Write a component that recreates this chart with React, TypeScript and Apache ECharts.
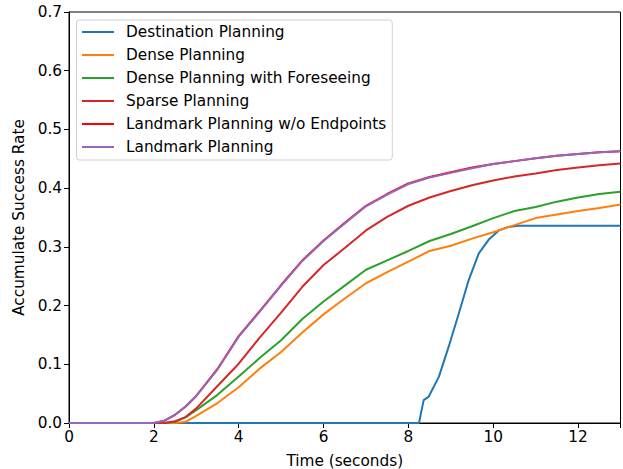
import React, { useEffect, useRef } from "react";
import * as echarts from "echarts";

const seriesNames = [
  "Destination Planning",
  "Dense Planning",
  "Dense Planning with Foreseeing",
  "Sparse Planning",
  "Landmark Planning w/o Endpoints",
  "Landmark Planning",
];
const seriesColors = ["#1f77b4", "#ff7f0e", "#2ca02c", "#d62728", "#ff0000", "#9467bd"];

const timeGrid = [0, 2.0, 2.25, 2.5, 2.75, 3.0, 3.5, 4.0, 4.5, 5.0, 5.5, 6.0, 6.5, 7.0, 7.5, 8.0, 8.5, 9.0, 9.5, 10.0, 10.5, 11.0, 11.5, 12.0, 12.5, 13.0];

const destinationTimes = [0, 8.25, 8.36, 8.48, 8.72, 8.95, 9.19, 9.42, 9.66, 9.89, 10.13, 10.36, 10.6, 11.0, 12.0, 13.0];
const destinationValues = [0, 0, 0.039, 0.045, 0.079, 0.13, 0.187, 0.243, 0.289, 0.312, 0.328, 0.334, 0.336, 0.336, 0.336, 0.336];

const denseValues = [0, 0, 0, 0, 0.002, 0.012, 0.034, 0.061, 0.093, 0.121, 0.154, 0.185, 0.212, 0.238, 0.257, 0.275, 0.293, 0.302, 0.314, 0.325, 0.337, 0.349, 0.355, 0.361, 0.366, 0.372];
const foreseeValues = [0, 0, 0, 0.002, 0.01, 0.022, 0.048, 0.079, 0.111, 0.141, 0.177, 0.207, 0.234, 0.261, 0.277, 0.293, 0.31, 0.322, 0.335, 0.349, 0.361, 0.368, 0.377, 0.384, 0.39, 0.394];
const sparseValues = [0, 0, 0, 0.003, 0.01, 0.025, 0.063, 0.101, 0.146, 0.188, 0.232, 0.269, 0.298, 0.328, 0.351, 0.37, 0.384, 0.395, 0.405, 0.413, 0.42, 0.425, 0.431, 0.435, 0.439, 0.442];
const landmarkNoEndValues = [0, 0, 0.004, 0.014, 0.028, 0.046, 0.092, 0.148, 0.191, 0.235, 0.277, 0.311, 0.341, 0.37, 0.39, 0.408, 0.419, 0.427, 0.435, 0.441, 0.446, 0.451, 0.455, 0.458, 0.461, 0.463];
const landmarkValues = [0, 0, 0.004, 0.014, 0.028, 0.046, 0.091, 0.147, 0.19, 0.234, 0.276, 0.31, 0.34, 0.369, 0.389, 0.407, 0.418, 0.426, 0.434, 0.441, 0.446, 0.451, 0.455, 0.458, 0.461, 0.463];

const xTicks = [0, 2, 4, 6, 8, 10, 12];
const yTicks = [0, 0.1, 0.2, 0.3, 0.4, 0.5, 0.6, 0.7];

const FONT = "DejaVu Sans";
const FS = 15.3;

function pairs(xs: number[], ys: number[]) {
  return xs.map((x, i) => [x, ys[i]]);
}

export default function App() {
  const ref = useRef<HTMLDivElement>(null);
  useEffect(() => {
    if (!ref.current) return;
    const chart = echarts.init(ref.current, undefined, { renderer: "svg" });
    const allData = [
      pairs(destinationTimes, destinationValues),
      pairs(timeGrid, denseValues),
      pairs(timeGrid, foreseeValues),
      pairs(timeGrid, sparseValues),
      pairs(timeGrid, landmarkNoEndValues),
      pairs(timeGrid, landmarkValues),
    ];
    chart.setOption({
      animation: false,
      backgroundColor: "#ffffff",
      grid: {
        left: 69,
        right: 2.5,
        top: 12,
        bottom: 46,
        outerBoundsMode: "none",
        containLabel: false,
        show: true,
        borderColor: "#000",
        borderWidth: 1,
        backgroundColor: "transparent",
      },
      legend: {
        orient: "vertical",
        left: 76.5,
        top: 20,
        padding: [3, 6, 4, 5.5],
        itemWidth: 32,
        itemHeight: 2,
        itemGap: 5,
        icon: "rect",
        borderColor: "#d0d0d0",
        borderWidth: 1,
        borderRadius: 3,
        backgroundColor: "rgba(255,255,255,0.8)",
        data: seriesNames,
        textStyle: {
          fontFamily: FONT,
          fontSize: FS,
          color: "#000",
          lineHeight: 18,
          padding: [0, 0, 0, 7],
        },
      },
      xAxis: {
        type: "value",
        min: 0,
        max: 13,
        interval: 2,
        name: "Time (seconds)",
        nameLocation: "middle",
        nameGap: 30,
        nameTextStyle: { fontFamily: FONT, fontSize: FS, color: "#000" },
        axisLine: { show: true, onZero: false, lineStyle: { color: "#000", width: 1 } },
        axisTick: { show: true, length: 5, lineStyle: { color: "#000" } },
        axisLabel: {
          fontFamily: FONT,
          fontSize: FS,
          color: "#000",
          margin: 6,
          formatter: (v: number) => (xTicks.includes(v) ? String(v) : ""),
        },
        splitLine: { show: false },
      },
      yAxis: {
        type: "value",
        min: 0,
        max: 0.7,
        interval: 0.1,
        name: "Accumulate Success Rate",
        nameLocation: "middle",
        nameGap: 42,
        nameTextStyle: { fontFamily: FONT, fontSize: FS, color: "#000" },
        axisLine: { show: true, lineStyle: { color: "#000", width: 1 } },
        axisTick: { show: true, length: 5, lineStyle: { color: "#000" } },
        axisLabel: {
          fontFamily: FONT,
          fontSize: FS,
          color: "#000",
          margin: 7,
          formatter: (v: number) => {
            const t = yTicks.find((y) => Math.abs(y - v) < 1e-6);
            return t === undefined ? "" : t.toFixed(1);
          },
        },
        splitLine: { show: false },
      },
      series: seriesNames.map((name, i) => ({
        name,
        type: "line",
        data: allData[i],
        showSymbol: false,
        symbol: "none",
        lineStyle: { color: seriesColors[i], width: 2 },
        itemStyle: { color: seriesColors[i] },
        emphasis: { disabled: true },
      })),
    });
    return () => chart.dispose();
  }, []);
  return <div ref={ref} style={{ width: 623, height: 469, position: "absolute", left: 0, top: 0 }} />;
}
